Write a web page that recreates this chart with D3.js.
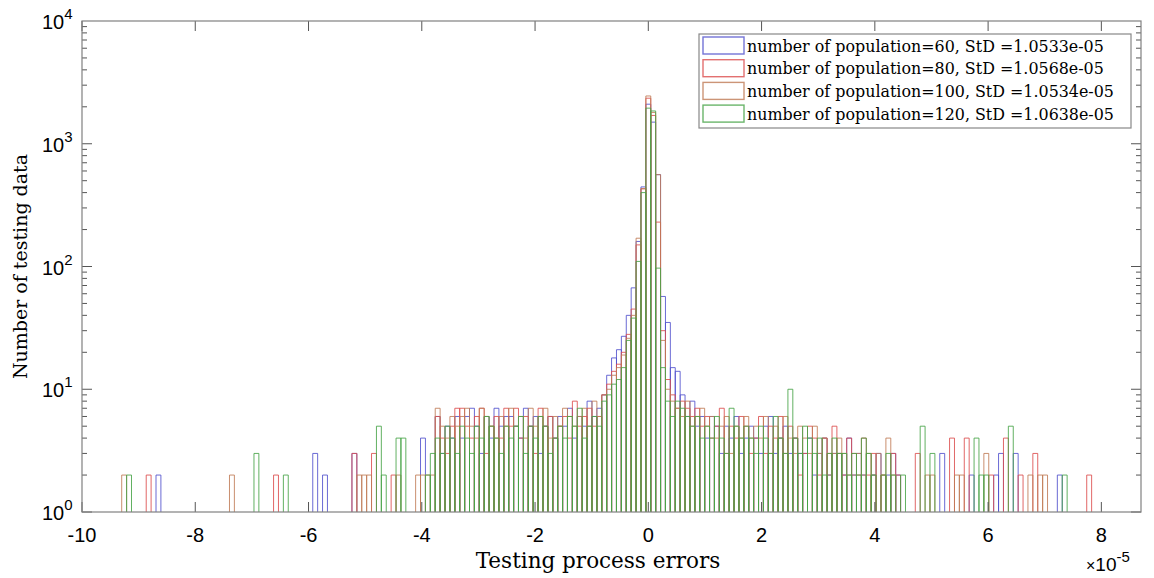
<!DOCTYPE html>
<html>
<head>
<meta charset="utf-8">
<script src="https://cdn.jsdelivr.net/npm/d3@7"></script>
<style>
  body { margin: 0; background: #fff; }
  text { fill: #000; }
</style>
</head>
<body>
<svg id="chart" width="1154" height="578"></svg>
<script>
// histogram bins: bin k is centred at k * binWidth (units of 1e-5)
const binWidth = 0.0865;
const firstBin = -108;

const seriesLabels = [
    "number of population=60, StD =1.0533e-05",
    "number of population=80, StD =1.0568e-05",
    "number of population=100, StD =1.0534e-05",
    "number of population=120, StD =1.0638e-05"
];

const bluePop60 = [
    0,0,0,0,0,0,0,0,2,0,  0,0,0,0,0,0,0,0,0,0,  0,0,0,0,0,0,0,0,0,0,
    0,0,0,0,0,0,0,0,0,0,  3,0,2,0,0,0,0,0,3,0,  0,0,0,0,0,0,0,0,0,0,
    0,0,4,0,0,6,3,5,4,6,  4,6,7,5,3,6,4,7,5,6,  6,5,4,7,5,6,3,5,6,4,
    6,5,7,4,6,5,8,6,7,9,  13,18,21,27,40,67,160,445,2100,1500,
    560,57,35,15,14,9,6,8,5,6,  4,6,5,3,5,4,6,3,4,5,  4,3,5,6,3,4,5,3,4,3,
    3,4,2,3,4,2,3,3,2,4,  2,3,2,0,2,3,0,2,3,2,  0,0,0,0,0,0,0,0,3,0,
    0,0,0,0,2,0,0,0,0,2,  3,0,0,3,0,0,0,0,0,0,  0,0,2,0,0,0,0,0,0,0,  0
];

const redPop80 = [
    0,0,0,0,0,0,2,0,0,0,  0,0,0,0,0,0,0,0,0,0,  0,0,0,0,0,0,0,0,0,0,
    0,0,2,0,0,0,0,0,0,0,  0,0,0,0,0,0,0,0,3,0,  0,0,3,0,0,0,2,0,0,0,
    0,0,0,0,0,6,4,3,5,7,  7,5,4,6,7,3,5,6,4,7,  5,7,4,6,5,3,7,5,6,4,
    5,6,4,8,5,6,7,5,6,9,  11,14,16,20,28,45,150,430,2350,1700,
    230,30,12,9,7,8,7,6,7,5,  6,4,5,7,3,5,4,6,5,3,  4,6,3,5,4,6,3,5,4,2,
    3,5,4,2,4,3,5,3,2,4,  3,2,4,2,3,0,2,0,3,2,  0,0,0,3,0,0,0,0,0,0,
    4,0,0,4,0,0,0,0,2,0,  0,4,0,0,2,0,0,3,0,0,  0,0,0,0,0,0,0,0,2,0,  0
];

const brownPop100 = [
    0,2,0,0,0,0,0,0,0,0,  0,0,0,0,0,0,0,0,0,0,  0,0,0,2,0,0,0,0,0,0,
    0,0,0,0,0,0,0,0,0,0,  0,0,0,0,0,0,0,0,0,2,  2,2,0,0,0,0,0,2,0,0,
    0,2,2,2,2,7,5,4,6,5,  6,7,5,4,7,6,5,4,6,5,  7,5,6,4,7,5,6,7,4,6,
    5,7,6,5,6,7,5,8,6,9,  10,13,15,19,26,40,170,430,2450,1800,
    560,25,10,8,7,6,8,5,6,7,  5,6,4,5,6,3,5,4,6,4,  5,4,6,3,5,4,6,4,3,5,
    4,3,5,3,4,2,3,4,3,2,  2,3,2,3,2,3,2,4,2,0,  0,0,0,0,0,2,2,0,0,0,
    0,2,2,0,0,0,0,3,0,0,  0,0,0,0,0,0,2,0,2,2,  0,0,0,0,0,0,0,0,0,0,  0
];

const greenPop120 = [
    0,0,2,0,0,0,0,0,0,0,  0,0,0,0,0,0,0,0,0,0,  0,0,0,0,0,0,0,0,3,0,
    0,0,0,0,2,0,0,0,0,0,  0,0,0,0,0,0,0,0,0,0,  0,0,0,5,2,0,0,4,4,0,
    0,0,0,2,3,4,3,5,4,3,  5,4,3,5,4,6,5,4,3,5,  4,5,6,3,5,4,6,5,3,4,
    5,4,6,5,7,4,5,6,5,8,  9,11,12,15,25,38,110,400,1950,1850,
    97,15,8,6,8,7,6,5,6,4,  5,4,6,4,3,7,5,4,5,4,  3,5,4,3,6,4,3,10,4,3,
    5,4,3,4,2,3,4,3,3,2,  3,2,4,3,2,0,2,3,2,0,  2,0,0,0,5,0,3,0,0,0,
    0,0,0,0,0,4,2,2,0,0,  0,0,5,0,0,0,0,0,0,0,  0,0,0,2,0,0,0,0,0,0,  0
];

const seriesCounts = [bluePop60, redPop80, brownPop100, greenPop120];
const seriesColors = ["#5050cc", "#dc4c4c", "#bf7a55", "#46a346"];

const xTicks = [-10, -8, -6, -4, -2, 0, 2, 4, 6, 8];
const yTicks = [1, 10, 100, 1000, 10000];

const svg = d3.select("#chart");
const margin = {left: 82, right: 13, top: 21, bottom: 66};
const width = 1154, height = 578;

const x = d3.scaleLinear().domain([-10, 8.7]).range([margin.left, width - margin.right]);
const y = d3.scaleLog().domain([1, 1e4]).range([height - margin.bottom, margin.top]);

svg.append("clipPath").attr("id", "plotClip")
    .append("rect")
    .attr("x", x(-10)).attr("y", y(1e4))
    .attr("width", x(8.7) - x(-10)).attr("height", y(1) - y(1e4));

const plot = svg.append("g").attr("clip-path", "url(#plotClip)");

// each bar is an outlined rectangle, sides running down to the axis floor
seriesCounts.forEach((counts, i) => {
    let bars = counts
        .map((c, j) => ({k: firstBin + j, count: c}))
        .filter(d => d.count > 1);
    plot.append("g")
        .selectAll("path")
        .data(bars)
        .enter()
        .append("path")
        .attr("d", d => {
            let x0 = x((d.k - 0.5) * binWidth), x1 = x((d.k + 0.5) * binWidth);
            let yt = y(d.count), yb = y(1) + 2;
            return `M${x0},${yb}V${yt}H${x1}V${yb}`;
        })
        .attr("fill", "none")
        .attr("stroke", seriesColors[i])
        .attr("stroke-opacity", 0.85)
        .attr("stroke-width", 1);
});

// axes box and ticks (inward, mirrored on top/right)
const axisColor = "#808080";
const tickG = svg.append("g").attr("stroke", "#555").attr("stroke-width", 1);
xTicks.forEach(t => {
    tickG.append("line").attr("x1", x(t)).attr("x2", x(t)).attr("y1", y(1)).attr("y2", y(1) - 10);
    tickG.append("line").attr("x1", x(t)).attr("x2", x(t)).attr("y1", y(1e4)).attr("y2", y(1e4) + 10);
});
for (let e = 0; e < 4; e++) {
    for (let m = 1; m < 10; m++) {
        let v = m * Math.pow(10, e);
        let len = m === 1 ? 10 : 5;
        tickG.append("line").attr("x1", x(-10)).attr("x2", x(-10) + len).attr("y1", y(v)).attr("y2", y(v));
        tickG.append("line").attr("x1", x(8.7)).attr("x2", x(8.7) - len).attr("y1", y(v)).attr("y2", y(v));
    }
}

svg.append("rect")
    .attr("x", x(-10)).attr("y", y(1e4))
    .attr("width", x(8.7) - x(-10)).attr("height", y(1) - y(1e4))
    .attr("fill", "none").attr("stroke", axisColor).attr("stroke-width", 1.2);

const sans = "'Liberation Sans', Arial, sans-serif";
const serif = "'DejaVu Serif', serif";

svg.append("g").selectAll("text")
    .data(xTicks).enter().append("text")
    .attr("x", d => x(d)).attr("y", 542)
    .attr("text-anchor", "middle")
    .attr("font-family", sans).attr("font-size", 20)
    .text(d => d);

let yLab = svg.append("g").selectAll("text")
    .data(yTicks).enter().append("text")
    .attr("x", 42).attr("y", d => y(d) + 8)
    .attr("font-family", sans).attr("font-size", 20);
yLab.append("tspan").text("10");
yLab.append("tspan").attr("dy", -10).attr("font-size", 15).text(d => Math.round(Math.log10(d)));

// exponent label
let ex = svg.append("text").attr("x", 1086).attr("y", 571)
    .attr("font-family", sans).attr("font-size", 19);
ex.append("tspan").attr("font-size", 16).text("\u00d7");
ex.append("tspan").text("10");
ex.append("tspan").attr("dy", -9).attr("font-size", 15).text("-5");

svg.append("text")
    .attr("x", 598).attr("y", 568)
    .attr("text-anchor", "middle")
    .attr("font-family", serif).attr("font-size", 21.5)
    .text("Testing process errors");

svg.append("text")
    .attr("transform", `translate(27,${(y(1) + y(1e4)) / 2}) rotate(-90)`)
    .attr("text-anchor", "middle")
    .attr("font-family", serif).attr("font-size", 19)
    .text("Number of testing data");

// legend
const legend = svg.append("g");
legend.append("rect")
    .attr("x", 699).attr("y", 34).attr("width", 432).attr("height", 94)
    .attr("fill", "#fff").attr("stroke", "#888").attr("stroke-width", 1.2);
seriesLabels.forEach((label, i) => {
    let cy = 45.5 + i * 22.7;
    legend.append("rect")
        .attr("x", 703).attr("y", cy - 8.5).attr("width", 41).attr("height", 17)
        .attr("fill", "none").attr("stroke", seriesColors[i])
        .attr("stroke-opacity", 0.8).attr("stroke-width", 1.4);
    legend.append("text")
        .attr("x", 747).attr("y", cy + 6)
        .attr("font-family", serif).attr("font-size", 15.9)
        .text(label);
});
</script>
</body>
</html>
